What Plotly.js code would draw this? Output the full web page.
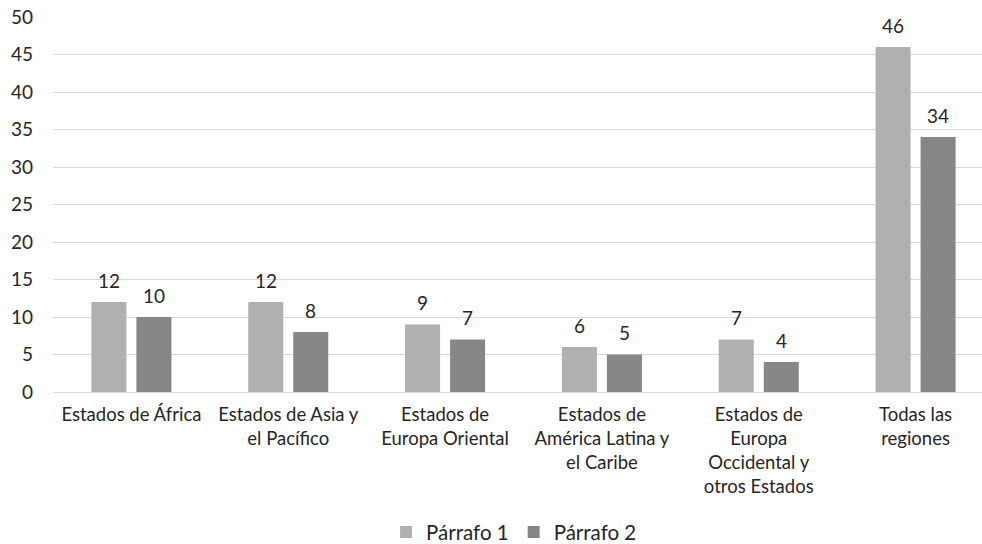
<!DOCTYPE html>
<html>
<head>
<meta charset="utf-8">
<script src="https://cdn.plot.ly/plotly-3.0.1.min.js"></script>
<style>html,body{margin:0;padding:0;background:#fff;overflow:hidden;}#chart{width:995px;height:544px;}</style>
</head>
<body>
<div id="chart"></div>
<script>
const categories = [
  "Estados de África",
  "Estados de Asia y<br>el Pacífico",
  "Estados de<br>Europa Oriental",
  "Estados de<br>América Latina y<br>el Caribe",
  "Estados de<br>Europa<br>Occidental y<br>otros Estados",
  "Todas las<br>regiones"
];
const seriesNames = ["Párrafo 1", "Párrafo 2"];
const parrafo1 = [12, 12, 9, 6, 7, 46];
const parrafo2 = [10, 8, 7, 5, 4, 34];
const yTicks = [0, 5, 10, 15, 20, 25, 30, 35, 40, 45, 50];

const font = {family: "Lato, 'Open Sans', sans-serif", size: 19, color: "#262626"};
const axFont = {family: "Lato, 'Open Sans', sans-serif", size: 18.5, color: "#262626"};
const legFont = {family: "Lato, 'Open Sans', sans-serif", size: 20.5, color: "#262626"};
const colors = ["#b0b0b0", "#878787"];

const traces = [parrafo1, parrafo2].map((vals, i) => ({
  type: "bar",
  name: seriesNames[i],
  x: categories,
  y: vals,
  marker: {color: colors[i]},
  hoverinfo: "none"
}));

const annotations = [];
[parrafo1, parrafo2].forEach((vals, i) => {
  vals.forEach((v, j) => {
    annotations.push({
      x: categories[j], y: v, xref: "x", yref: "y",
      text: String(v), showarrow: false,
      xshift: i === 0 ? -22.5 : 22.5, yshift: 22,
      yanchor: "middle", xanchor: "center",
      font: font
    });
  });
});

const layout = {
  width: 995, height: 544,
  margin: {l: 53, r: 1, t: 17, b: 152, autoexpand: false},
  paper_bgcolor: "#fff", plot_bgcolor: "#fff",
  font: font,
  barmode: "group",
  bargap: 0.426,
  bargroupgap: 0.222,
  showlegend: true,
  annotations: annotations,
  legend: {orientation: "h", x: 0.49, xanchor: "center", y: -0.374, yanchor: "middle", font: legFont, itemwidth: 30, traceorder: "normal"},
  xaxis: {
    automargin: false,
    tickfont: axFont,
    showgrid: false,
    showline: true, linecolor: "#d9d9d9", linewidth: 1,
    ticks: "", ticklabelstandoff: 6,
    tickangle: 0
  },
  yaxis: {
    automargin: false,
    range: [0, 50],
    tickvals: yTicks,
    ticktext: yTicks.map(String),
    tickfont: font,
    showgrid: true, gridcolor: "#d9d9d9", gridwidth: 1,
    zeroline: false, showline: false,
    ticks: "", ticklabelstandoff: 19
  }
};

Plotly.newPlot("chart", traces, layout, {displayModeBar: false, staticPlot: true});
</script>
</body>
</html>
